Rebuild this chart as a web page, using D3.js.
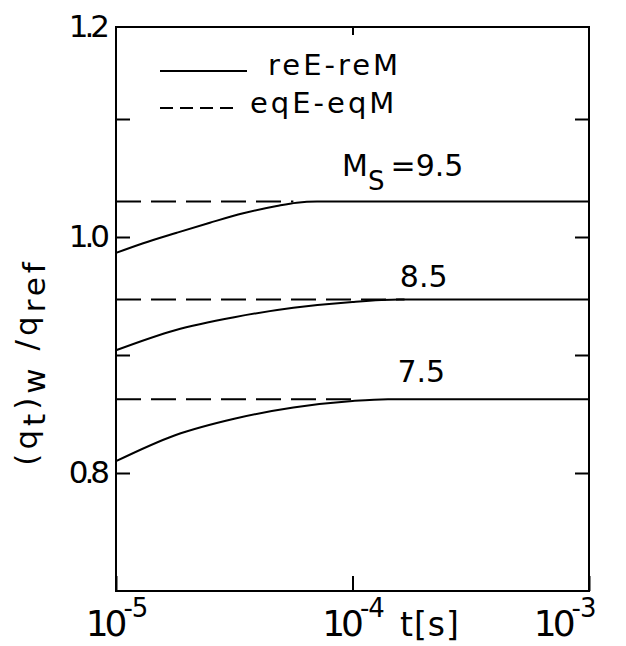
<!DOCTYPE html>
<html>
<head>
<meta charset="utf-8">
<script src="https://cdn.jsdelivr.net/npm/d3@7"></script>
<style>
  body { margin: 0; background: #fff; }
  svg text { font-family: "DejaVu Sans", sans-serif; fill: #000; }
</style>
</head>
<body>
<svg id="chart" width="626" height="646"></svg>
<script>
// Shock Mach numbers of the three cases
const machNumbers = [9.5, 8.5, 7.5];

// Reacting gas (reE-reM): sample times as log10(t [s]) and wall heat flux ratio
const reLogT95 = [-5, -4.885, -4.743, -4.603, -4.462, -4.32, -4.236, -4.15, -3];
const reQ95    = [0.9865, 0.9947, 1.0036, 1.0121, 1.0201, 1.0263, 1.0291, 1.030, 1.030];
const reLogT85 = [-5, -4.75, -4.5, -4.25, -4.0, -3.8, -3];
const reQ85    = [0.904, 0.921, 0.932, 0.940, 0.945, 0.947, 0.947];
const reLogT75 = [-5, -4.75, -4.5, -4.25, -4.0, -3.85, -3];
const reQ75    = [0.810, 0.832, 0.846, 0.8555, 0.861, 0.8625, 0.8625];

// Equilibrium gas (eqE-eqM): constant level, drawn from t = 1e-5 up to log10(t) end
const eqQ       = [1.030, 0.947, 0.8625];
const eqEndLogT = [-4.25, -3.78, -3.97];

// Axis ticks
const xTickExps   = [-5, -4, -3];
const yTickValues = [0.8, 0.9, 1.0, 1.1];
const yTickLabels = [0.8, 1.0, 1.2];

const svg = d3.select("#chart");
const pLeft = 116, pRight = 589, pTop = 27, pBottom = 591;

const x = d3.scaleLog().domain([1e-5, 1e-3]).range([pLeft, pRight]);
// The drawn axis is compressed between 1.1 and 1.2
const y = d3.scaleLinear().domain([0.7, 1.1, 1.2]).range([pBottom, 119, pTop]);

// Frame
svg.append("rect")
  .attr("x", pLeft).attr("y", pTop)
  .attr("width", pRight - pLeft).attr("height", pBottom - pTop)
  .attr("fill", "none").attr("stroke", "#000").attr("stroke-width", 2);

const fmt = d3.format(".1f");

// Left axis: inward ticks, labels on 0.8 / 1.0 / 1.2
const gL = svg.append("g").attr("transform", `translate(${pLeft},0)`)
  .call(d3.axisLeft(y).tickValues(yTickValues.concat([1.2]))
    .tickSizeInner(-14).tickSizeOuter(0).tickPadding(10)
    .tickFormat(d => yTickLabels.includes(d) ? fmt(d) : ""));
gL.select(".domain").remove();
gL.selectAll(".tick line").attr("stroke-width", 2).filter(d => d === 1.2).remove();
gL.selectAll(".tick text")
  .attr("font-size", 31).attr("letter-spacing", -4)
  .style("font-family", "'DejaVu Sans', sans-serif");

// Right axis: inward ticks only
const gR = svg.append("g").attr("transform", `translate(${pRight},0)`)
  .call(d3.axisRight(y).tickValues(yTickValues).tickSizeInner(-14).tickSizeOuter(0).tickFormat(""));
gR.select(".domain").remove();
gR.selectAll(".tick line").attr("stroke-width", 2);

// Top axis: one inward tick at 1e-4
const gT = svg.append("g").attr("transform", `translate(0,${pTop})`)
  .call(d3.axisTop(x).tickValues([1e-4]).tickSizeInner(-8).tickSizeOuter(0).tickFormat(""));
gT.select(".domain").remove();
gT.selectAll(".tick line").attr("stroke-width", 2);

// Bottom axis: inward tick at 1e-4, power-of-ten labels
const gB = svg.append("g").attr("transform", `translate(0,${pBottom})`)
  .call(d3.axisBottom(x).tickValues(xTickExps.map(e => Math.pow(10, e)))
    .tickSizeInner(-15).tickSizeOuter(0).tickFormat(""));
gB.select(".domain").remove();
gB.selectAll(".tick line").attr("stroke-width", 2);
gB.selectAll(".tick text").each(function (d, i) {
  const t = d3.select(this)
    .attr("y", 45).attr("dy", null)
    .attr("font-size", 36).attr("letter-spacing", -4)
    .style("font-family", "'DejaVu Sans', sans-serif");
  t.append("tspan").text("10");
  t.append("tspan").attr("font-size", 26).attr("dy", -19).attr("letter-spacing", -1)
    .text("-" + (-xTickExps[i]));
  if (i === xTickExps.length - 1) t.attr("text-anchor", "end").attr("x", 6);
});

// Axis titles
svg.append("text").attr("x", 400).attr("y", 636).attr("font-size", 33)
  .attr("letter-spacing", 1).text("t[s]");

const yt = svg.append("text")
  .attr("transform", "translate(37,362) rotate(-90)")
  .attr("text-anchor", "middle").attr("font-size", 31).attr("letter-spacing", 4);
yt.append("tspan").text("(q");
yt.append("tspan").attr("dy", 8).text("t");
yt.append("tspan").attr("dy", -8).text(")");
yt.append("tspan").attr("dy", 8).text("w");
yt.append("tspan").attr("dy", -8).text(" /q");
yt.append("tspan").attr("dy", 8).text("ref");

// Curves
const line = d3.line()
  .x(d => x(Math.pow(10, d[0])))
  .y(d => y(d[1]))
  .curve(d3.curveMonotoneX);

const reSeries = [
  d3.zip(reLogT95, reQ95),
  d3.zip(reLogT85, reQ85),
  d3.zip(reLogT75, reQ75)
];

const plot = svg.append("g");
reSeries.forEach(s => {
  plot.append("path").attr("d", line(s))
    .attr("fill", "none").attr("stroke", "#000").attr("stroke-width", 2);
});
eqQ.forEach((q, i) => {
  plot.append("path").attr("d", line([[-5, q], [eqEndLogT[i], q]]))
    .attr("fill", "none").attr("stroke", "#000").attr("stroke-width", 2)
    .attr("stroke-dasharray", "25,10");
});

// Mach number labels
const lbl95 = svg.append("text")
  .attr("x", x(Math.pow(10, -4.044))).attr("y", y(eqQ[0]) - 26).attr("font-size", 30);
lbl95.append("tspan").text("M");
lbl95.append("tspan").attr("dy", 14).attr("font-size", 26).text("S");
lbl95.append("tspan").attr("dy", -14).attr("dx", 6).text("=" + machNumbers[0].toFixed(1));

svg.append("text")
  .attr("x", x(Math.pow(10, -3.80))).attr("y", y(eqQ[1]) - 13).attr("font-size", 30)
  .text(machNumbers[1].toFixed(1));
svg.append("text")
  .attr("x", x(Math.pow(10, -3.81))).attr("y", y(eqQ[2]) - 17).attr("font-size", 30)
  .text(machNumbers[2].toFixed(1));

// Legend
const lg = svg.append("g");
lg.append("line").attr("x1", 160).attr("x2", 247).attr("y1", 71).attr("y2", 71)
  .attr("stroke", "#000").attr("stroke-width", 2);
lg.append("text").attr("x", 268).attr("y", 75).attr("font-size", 29)
  .attr("letter-spacing", 3).text("reE-reM");
lg.append("line").attr("x1", 160).attr("x2", 240).attr("y1", 108).attr("y2", 108)
  .attr("stroke", "#000").attr("stroke-width", 2).attr("stroke-dasharray", "13,7");
lg.append("text").attr("x", 250).attr("y", 113).attr("font-size", 29)
  .attr("letter-spacing", 3).text("eqE-eqM");
</script>
</body>
</html>
